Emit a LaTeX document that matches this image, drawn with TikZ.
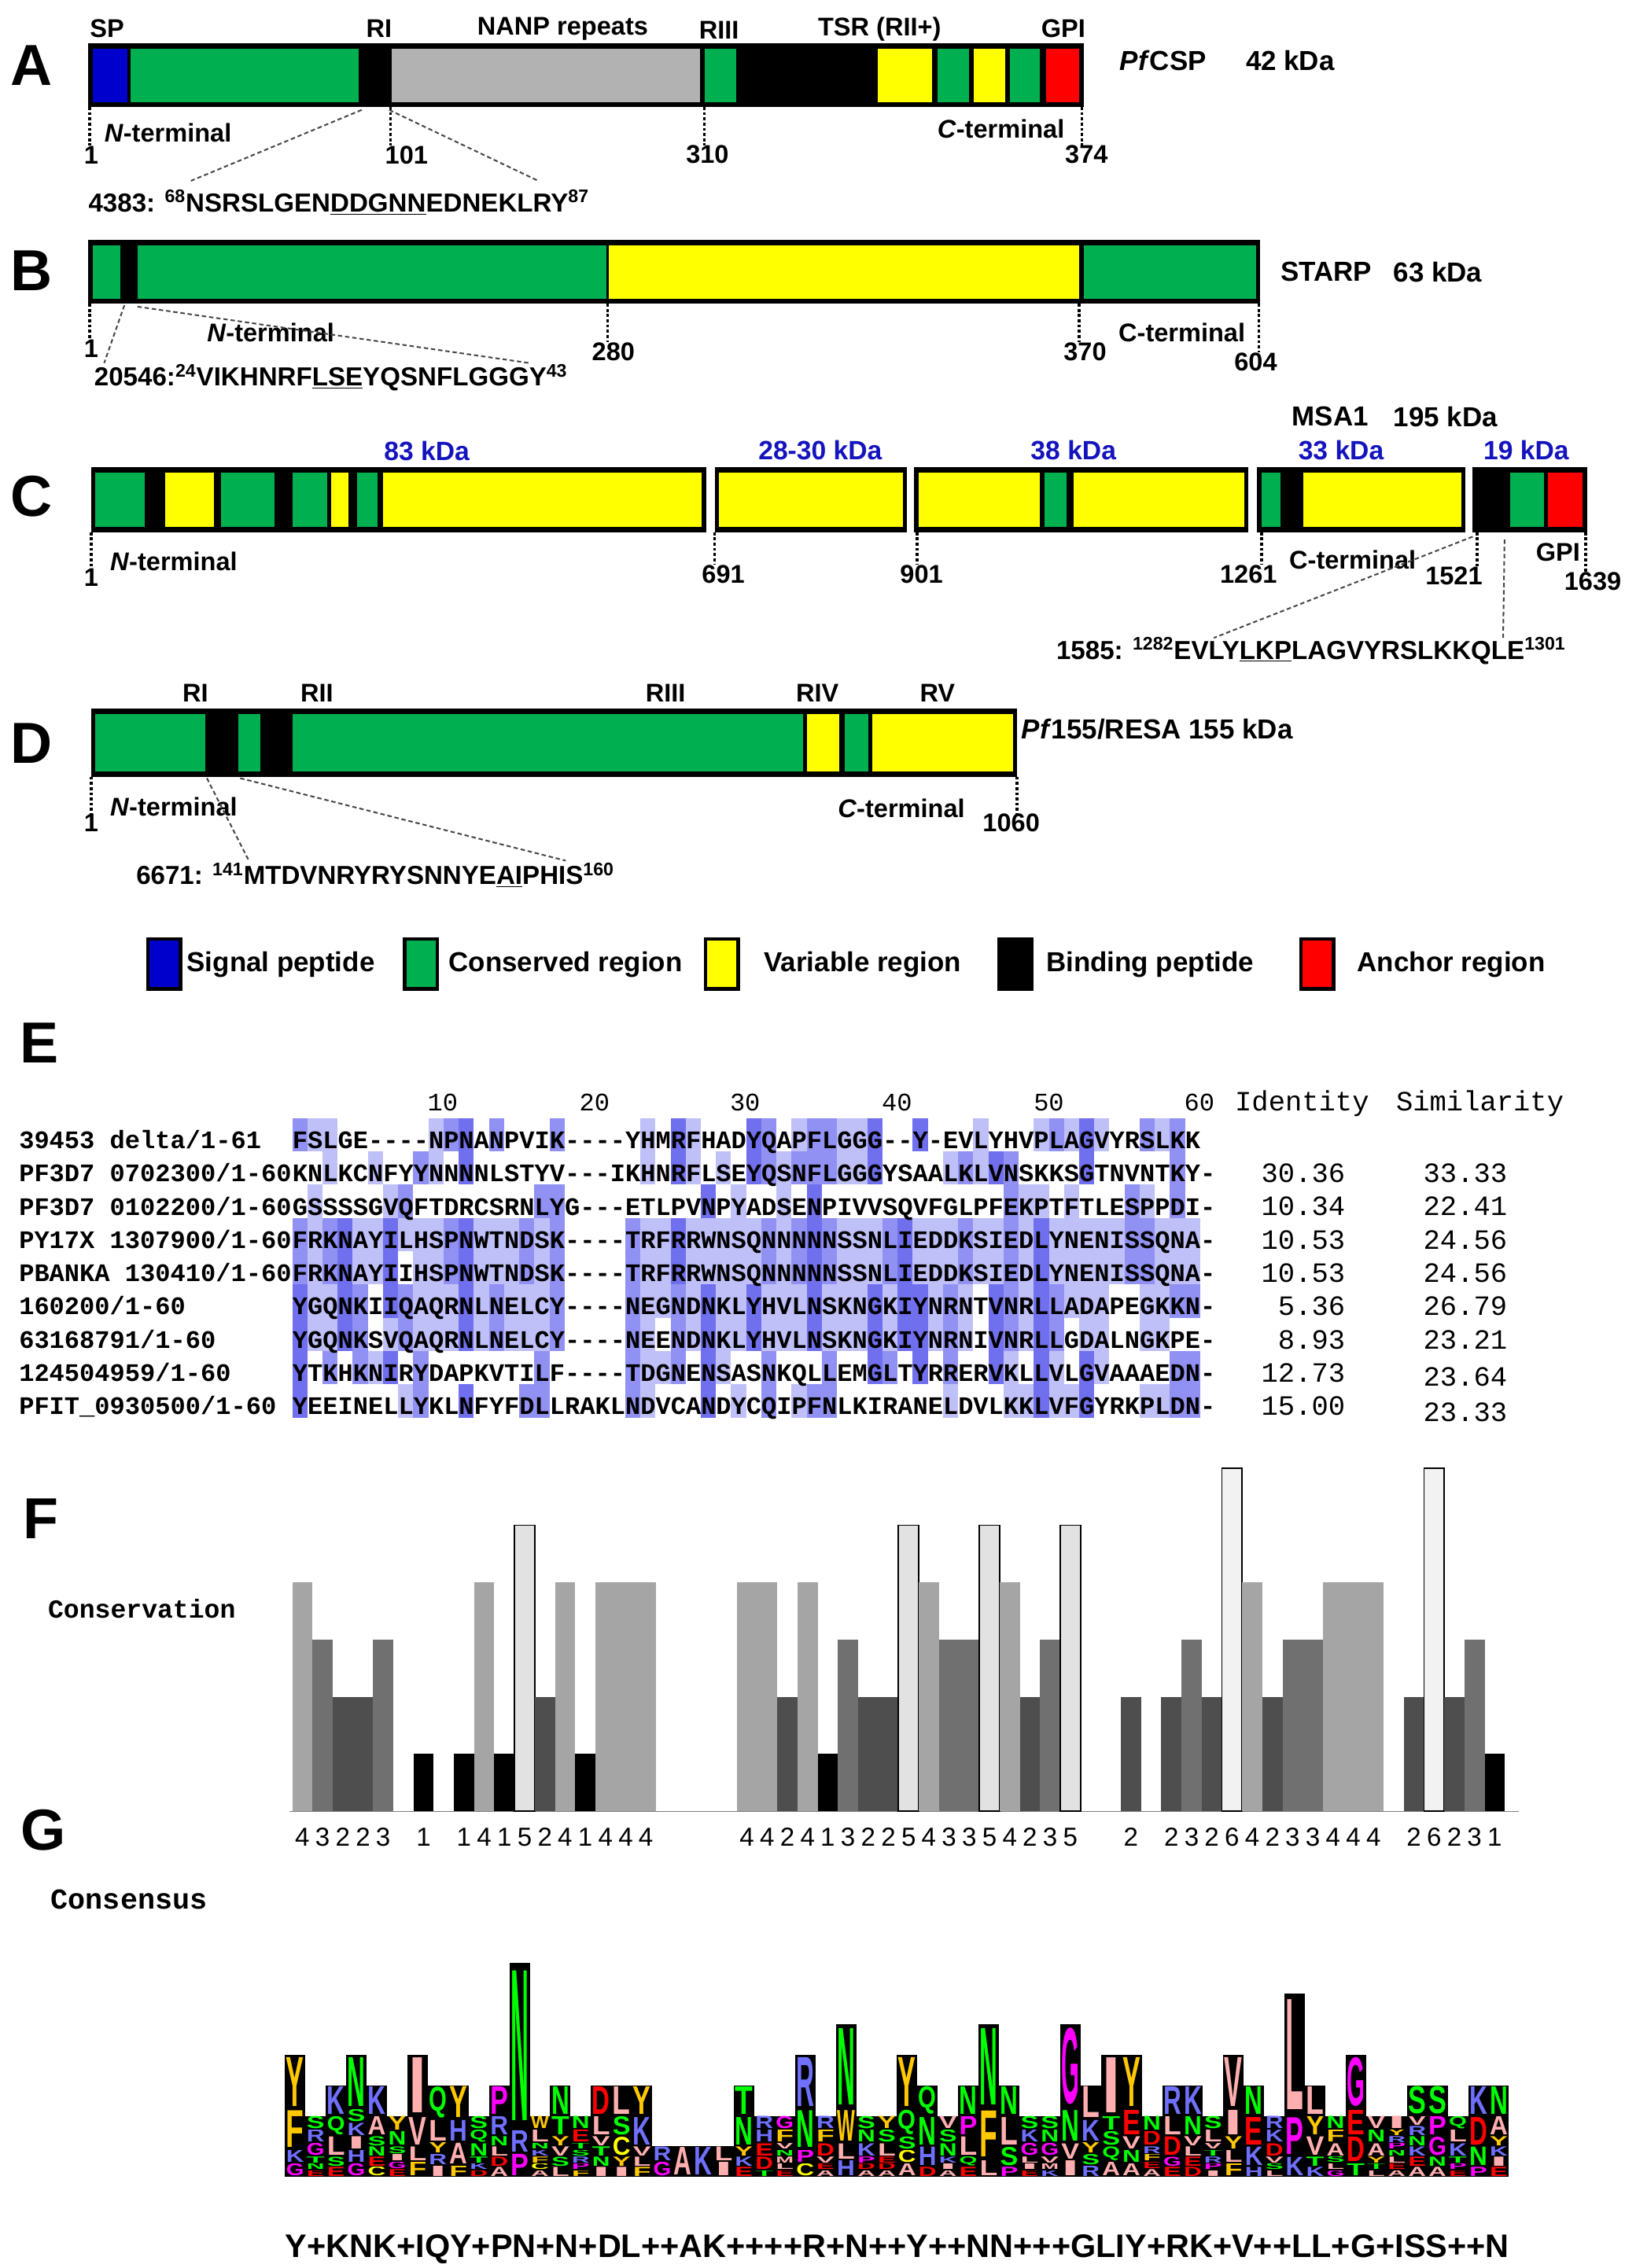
\documentclass[tikz,border=0pt]{standalone}
\usepackage{fontspec}
\setmainfont{Liberation Sans}
\setmonofont{Liberation Mono}
\usepackage{graphicx}
\usetikzlibrary{positioning}

\definecolor{spblue}{RGB}{0,0,204}
\definecolor{consgreen}{RGB}{0,176,80}
\definecolor{varyellow}{RGB}{255,255,0}
\definecolor{nanpgray}{RGB}{178,178,178}
\definecolor{anchred}{RGB}{255,0,0}
\definecolor{kdablue}{RGB}{20,20,190}
\definecolor{alnD}{RGB}{112,112,238}
\definecolor{alnM}{RGB}{145,145,243}
\definecolor{alnL}{RGB}{192,192,249}
\definecolor{cv1}{RGB}{0,0,0}
\definecolor{cv2}{RGB}{78,78,78}
\definecolor{cv3}{RGB}{112,112,112}
\definecolor{cv4}{RGB}{165,165,165}
\definecolor{cv5}{RGB}{226,226,226}
\definecolor{cv6}{RGB}{242,242,242}
% residue colours of the logo
\definecolor{zapA}{HTML}{FFAFAF}\colorlet{zapI}{zapA}\colorlet{zapL}{zapA}\colorlet{zapM}{zapA}\colorlet{zapV}{zapA}
\definecolor{zapF}{HTML}{FFC800}\colorlet{zapW}{zapF}\colorlet{zapY}{zapF}
\definecolor{zapK}{HTML}{7070FF}\colorlet{zapH}{zapK}\colorlet{zapR}{zapK}
\definecolor{zapD}{HTML}{FF0000}\colorlet{zapE}{zapD}
\definecolor{zapN}{HTML}{00FF00}\colorlet{zapQ}{zapN}\colorlet{zapS}{zapN}\colorlet{zapT}{zapN}
\definecolor{zapG}{HTML}{FF00FF}\colorlet{zapP}{zapG}
\definecolor{zapC}{HTML}{FFFF00}

\tikzset{
  panel/.style={font=\fontsize{40}{44}\selectfont\bfseries, inner sep=0pt},
  lab/.style={font=\fontsize{17.7}{20}\selectfont\bfseries, inner sep=0pt},
  prot/.style={font=\fontsize{19}{22}\selectfont\bfseries, inner sep=0pt, anchor=west},
  kda/.style={font=\fontsize{18.3}{21}\selectfont\bfseries, text=kdablue, inner sep=0pt},
  pep/.style={font=\fontsize{18}{21}\selectfont\bfseries, inner sep=0pt, anchor=west},
  tick/.style={line width=1.8pt, dash pattern=on 2pt off 1.6pt},
  zoomln/.style={line width=1.1pt, gray!55!black, dash pattern=on 3pt off 2pt},
  legbox/.style={draw=black, line width=2.5pt, minimum width=22.5pt, minimum height=34.5pt, inner sep=0pt},
  legtxt/.style={font=\fontsize{19}{22}\selectfont\bfseries, inner sep=0pt, anchor=west},
  aln/.style={font=\fontsize{17.43}{18}\selectfont\ttfamily\bfseries, inner sep=0pt, anchor=base west},
  alnhd/.style={font=\fontsize{17.43}{18}\selectfont\ttfamily, inner sep=0pt, anchor=base},
  idn/.style={font=\fontsize{19.3}{21}\selectfont\ttfamily, inner sep=0pt, anchor=base east},
  cvnum/.style={font=\fontsize{18}{20}\selectfont, inner sep=0pt},
  csline/.style={font=\fontsize{22.5}{24}\selectfont\bfseries, inner sep=0pt, anchor=west},
  logoch/.style={inner sep=0pt, anchor=south},
}

\newcommand\alncell[3]{\fill[#1] (#2,#3) rectangle ++(10.46,23);}
\newcommand\logoletter[5]{%
  \fill[black] (#2,#3) rectangle ++(14.1,-#4);
  \node[logoch, text=zap#1] (lg-#5-#1) at (#2+7.05,#3-0.05*#4)
    {\resizebox*{12.4pt}{0.9\dimexpr #4pt\relax}{\bfseries #1}};}

\ExplSyntaxOn
\seq_new:N \g_aln_rows_seq
\seq_gset_from_clist:Nn \g_aln_rows_seq
  {
    FSLGE----NPNANPVIK----YHMRFHADYQAPFLGGG--Y-EVLYHVPLAGVYRSLKK ,
    KNLKCNFYYNNNNLSTYV---IKHNRFLSEYQSNFLGGGYSAALKLVNSKKSGTNVNTKY- ,
    GSSSSGVQFTDRCSRNLYG---ETLPVNPYADSENPIVVSQVFGLPFEKPTFTLESPPDI- ,
    FRKNAYILHSPNWTNDSK----TRFRRWNSQNNNNNSSNLIEDDKSIEDLYNENISSQNA- ,
    FRKNAYIIHSPNWTNDSK----TRFRRWNSQNNNNNSSNLIEDDKSIEDLYNENISSQNA- ,
    YGQNKIIQAQRNLNELCY----NEGNDNKLYHVLNSKNGKIYNRNTVNRLLADAPEGKKN- ,
    YGQNKSVQAQRNLNELCY----NEENDNKLYHVLNSKNGKIYNRNIVNRLLGDALNGKPE- ,
    YTKHKNIRYDAPKVTILF----TDGNENSASNKQLLEMGLTYRRERVKLLVLGVAAAEDN- ,
    YEEINELLYKLNFYFDLLRAKLNDVCANDYCQIPFNLKIRANELDVLKKLVFGYRKPLDN-
  }
\cs_new:Npn \alnrow #1 { \seq_item:Nn \g_aln_rows_seq {#1} }

\int_new:N \l_aln_n_int
\tl_new:N \l_aln_r_tl
\tl_new:N \l_aln_c_tl
\tl_new:N \l_aln_ch_tl
\tl_new:N \l_aln_row_tl
\tl_new:N \l_aln_clr_tl
\cs_new_protected:Npn \aln_count:nn #1#2
  {
    \int_zero:N \l_aln_n_int
    \seq_map_inline:Nn \g_aln_rows_seq
      {
        \str_if_eq:eeT { \str_item:nn {##1} {#1} } {#2}
          { \int_incr:N \l_aln_n_int }
      }
  }
\cs_generate_variant:Nn \aln_count:nn { VV , Vn }

\cs_new_protected:Npn \aln_shade:
  {
    \int_step_variable:nNn { 9 } \l_aln_r_tl
      {
        \tl_set:Nx \l_aln_row_tl { \seq_item:Nn \g_aln_rows_seq { \l_aln_r_tl } }
        \int_step_variable:nNn { 61 } \l_aln_c_tl
          {
            \tl_set:Nx \l_aln_ch_tl { \str_item:Nn \l_aln_row_tl { \l_aln_c_tl } }
            \bool_lazy_or:nnF
              { \tl_if_empty_p:N \l_aln_ch_tl }
              { \str_if_eq_p:ee { \l_aln_ch_tl } { - } }
              {
                \aln_count:VV \l_aln_c_tl \l_aln_ch_tl
                \int_compare:nNnT { \l_aln_n_int } > { 1 }
                  {
                    \tl_set:Nx \l_aln_clr_tl
                      {
                        \int_compare:nNnTF { \l_aln_n_int } > { 3 } { alnD }
                          { \int_compare:nNnTF { \l_aln_n_int } = { 3 } { alnM } { alnL } }
                      }
                    \use:e
                      {
                        \exp_not:N \alncell { \l_aln_clr_tl }
                          { \fp_eval:n { 202 + ( \l_aln_c_tl - 1 ) * 10.46 } }
                          { \fp_eval:n { 773 + ( \l_aln_r_tl - 1 ) * 23 } }
                      }
                  }
              }
          }
      }
  }

\intarray_new:Nn \g_logo_n_intarray { 20 }
\clist_const:Nn \c_logo_abc_clist { A,C,D,E,F,G,H,I,K,L,M,N,P,Q,R,S,T,V,W,Y }
\int_new:N \l_logo_i_int
\int_new:N \l_logo_max_int
\int_new:N \l_logo_tot_int
\fp_new:N \l_logo_y_fp
\fp_new:N \l_logo_h_fp
\cs_new_protected:Npn \logo_draw:
  {
    \int_step_variable:nNn { 60 } \l_aln_c_tl
      {
        \int_zero:N \l_logo_i_int
        \int_zero:N \l_logo_max_int
        \int_zero:N \l_logo_tot_int
        \clist_map_inline:Nn \c_logo_abc_clist
          {
            \int_incr:N \l_logo_i_int
            \aln_count:Vn \l_aln_c_tl {##1}
            \intarray_gset:Nnn \g_logo_n_intarray { \l_logo_i_int } { \l_aln_n_int }
            \int_add:Nn \l_logo_tot_int { \l_aln_n_int }
            \int_compare:nNnT { \l_aln_n_int } > { \l_logo_max_int }
              { \int_set_eq:NN \l_logo_max_int \l_aln_n_int }
          }
        \fp_set:Nn \l_logo_y_fp { 1505 }
        \int_step_inline:nn { 9 }
          {
            \int_zero:N \l_logo_i_int
            \clist_map_inline:Nn \c_logo_abc_clist
              {
                \int_incr:N \l_logo_i_int
                \int_compare:nNnT { \intarray_item:Nn \g_logo_n_intarray { \l_logo_i_int } } = { ##1 }
                  {
                    \fp_set:Nn \l_logo_h_fp
                      { ##1 / \l_logo_tot_int * \l_logo_max_int / 9 * 190 }
                    \use:e
                      {
                        \exp_not:N \logoletter {####1}
                          { \fp_eval:n { 197 + ( \l_aln_c_tl - 1 ) * 14.1 } }
                          { \fp_eval:n { \l_logo_y_fp } }
                          { \fp_eval:n { \l_logo_h_fp } }
                          { \l_aln_c_tl }
                      }
                    \fp_sub:Nn \l_logo_y_fp { \l_logo_h_fp }
                  }
              }
          }
      }
  }
\cs_set_eq:NN \shadealignment \aln_shade:
\cs_set_eq:NN \drawlogo \logo_draw:
\ExplSyntaxOff

\begin{document}
\begin{tikzpicture}[x=1pt,y=-1pt]
\fill[white] (0,0) rectangle (1123,1568);
\useasboundingbox (0,0) rectangle (1123,1568);

% ---------- A: PfCSP
\node[panel] (lA) at (22,45) {A};
\fill[black] (61,30) rectangle (749,74);
\fill[spblue]    (64,33.5) rectangle (88,70.5);
\fill[consgreen] (90,33.5) rectangle (248,70.5);
\fill[nanpgray]  (271,33.5) rectangle (484,70.5);
\fill[consgreen] (487,33.5) rectangle (509,70.5);
\fill[varyellow] (607,33.5) rectangle (644,70.5);
\fill[consgreen] (648,33.5) rectangle (670,70.5);
\fill[varyellow] (673,33.5) rectangle (695,70.5);
\fill[consgreen] (698,33.5) rectangle (719,70.5);
\fill[anchred]   (723,33.5) rectangle (746,70.5);

\node[lab] (spA) at (74,20) {SP};
\node[lab] (riA) at (262,20) {RI};
\node[lab] (nanpA) at (389,20) {NANP repeats};
\node[lab] (riiiA) at (497,21) {RIII};
\node[lab] (tsrA) at (608,20) {TSR (RII+)};
\node[lab] (gpiA) at (735,20) {GPI};
\node[prot] (nmA) at (774,42) {\textit{Pf}CSP};
\node[prot] (kdA) at (861,42) {42 kDa};
\node[lab, anchor=west] (ntA) at (72,92) {\textit{N}-terminal};
\node[lab, anchor=east] (ctA) at (736,89) {\textit{C}-terminal};
\node[lab] (n1A) at (63,107) {1};
\node[lab] (n101A) at (281,107) {101};
\node[lab] (n310A) at (489,107) {310};
\node[lab] (n374A) at (751,107) {374};
\coordinate (t1A) at (62,74);
\coordinate (t101A) at (270,74);
\coordinate (t310A) at (487,74);
\coordinate (t374A) at (748,74);
\draw[tick] (t1A) -- (t1A |- n1A.north);
\draw[tick] (t101A) -- (t101A |- n101A.north);
\draw[tick] (t310A) -- (t310A |- n310A.north);
\draw[tick] (t374A) -- (t374A |- n374A.north);

\node[pep] (pA) at (61,140) {4383: \textsuperscript{68}NSRSLGEN\underline{DDGNN}EDNEKLRY\textsuperscript{87}};
\coordinate (zA1) at (250,76);
\coordinate (zA2) at (269,76);
\coordinate (eA1) at (132,125);
\coordinate (eA2) at (372,125);
\draw[zoomln] (zA1) -- (eA1);
\draw[zoomln] (zA2) -- (eA2);

% ---------- B: STARP
\node[panel] (lB) at (22,187) {B};
\fill[black] (61,166) rectangle (871,210);
\fill[consgreen] (64,169.5) rectangle (83,206.5);
\fill[consgreen] (95,169.5) rectangle (419,206.5);
\fill[varyellow] (421,169.5) rectangle (746,206.5);
\fill[consgreen] (749,169.5) rectangle (868,206.5);
\node[prot] (nmB) at (885,188) {STARP};
\node[prot] (kdB) at (963,188) {63 kDa};
\node[lab, anchor=west] (ntB) at (143,230) {\textit{N}-terminal};
\node[lab, anchor=west] (ctB) at (773,230) {C-terminal};
\node[lab] (n1B) at (63,241) {1};
\node[lab] (n280B) at (424,243) {280};
\node[lab] (n370B) at (750,243) {370};
\node[lab] (n604B) at (868,250) {604};
\coordinate (t1B) at (62,210);
\coordinate (t280B) at (420,210);
\coordinate (t370B) at (746,210);
\coordinate (t604B) at (870,210);
\draw[tick] (t1B) -- (t1B |- n1B.north);
\draw[tick] (t280B) -- (t280B |- n280B.north);
\draw[tick] (t370B) -- (t370B |- n370B.north);
\draw[tick] (t604B) -- (t604B |- n604B.north);

\node[pep] (pB) at (65,261) {20546:\textsuperscript{24}VIKHNRF\underline{LSE}YQSNFLGGGY\textsuperscript{43}};
\coordinate (zB1) at (86,211);
\coordinate (zB2) at (95,212);
\coordinate (eB1) at (72,251);
\coordinate (eB2) at (366,251);
\draw[zoomln] (zB1) -- (eB1);
\draw[zoomln] (zB2) -- (eB2);

% ---------- C: MSA1
\node[panel] (lC) at (22,343) {C};
\fill[black] (63,323) rectangle (488,368);
\fill[black] (494,323) rectangle (627,368);
\fill[black] (632,323) rectangle (863,368);
\fill[black] (869,323) rectangle (1013,368);
\fill[black] (1018,323) rectangle (1097,368);
\fill[consgreen] (66,326.5) rectangle (100,364.5);
\fill[varyellow] (114,326.5) rectangle (148,364.5);
\fill[consgreen] (153,326.5) rectangle (190,364.5);
\fill[consgreen] (202,326.5) rectangle (226,364.5);
\fill[varyellow] (229,326.5) rectangle (241,364.5);
\fill[consgreen] (247,326.5) rectangle (261,364.5);
\fill[varyellow] (265,326.5) rectangle (485,364.5);
\fill[varyellow] (497,326.5) rectangle (624,364.5);
\fill[varyellow] (635,326.5) rectangle (719,364.5);
\fill[consgreen] (722,326.5) rectangle (737,364.5);
\fill[varyellow] (742,326.5) rectangle (860,364.5);
\fill[consgreen] (872,326.5) rectangle (885,364.5);
\fill[varyellow] (901,326.5) rectangle (1010,364.5);
\fill[consgreen] (1044,326.5) rectangle (1067,364.5);
\fill[anchred]   (1070,326.5) rectangle (1094,364.5);

\node[kda] (k83C) at (295,312) {83 kDa};
\node[kda] (k28C) at (567,311) {28-30 kDa};
\node[kda] (k38C) at (742,311) {38 kDa};
\node[kda] (k33C) at (927,311) {33 kDa};
\node[kda] (k19C) at (1055,311) {19 kDa};
\node[prot] (nmC) at (893,288) {MSA1};
\node[prot] (kdC) at (963,288) {195 kDa};
\node[lab, anchor=west] (ntC) at (76,388) {\textit{N}-terminal};
\node[lab, anchor=west] (ctC) at (891,387) {C-terminal};
\node[lab] (gpiC) at (1077,382) {GPI};
\node[lab] (n1C) at (63,399) {1};
\node[lab] (n691C) at (500,397) {691};
\node[lab] (n901C) at (637,397) {901};
\node[lab] (n1261C) at (863,397) {1261};
\node[lab] (n1521C) at (1005,398) {1521};
\node[lab] (n1639C) at (1101,402) {1639};
\coordinate (t1C) at (63,368);
\coordinate (t691C) at (494,368);
\coordinate (t901C) at (634,368);
\coordinate (t1261C) at (872,368);
\coordinate (t1521C) at (1021,368);
\coordinate (t1639C) at (1096,368);
\draw[tick] (t1C) -- (t1C |- n1C.north);
\draw[tick] (t691C) -- (t691C |- n691C.north);
\draw[tick] (t901C) -- (t901C |- n901C.north);
\draw[tick] (t1261C) -- (t1261C |- n1261C.north);
\draw[tick] (t1521C) -- (t1521C |- n1521C.north);
\draw[tick] (t1639C) -- (t1639C |- n1639C.north);

\node[pep] (pC) at (730,450) {1585: \textsuperscript{1282}EVLY\underline{LKP}LAGVYRSLKKQLE\textsuperscript{1301}};
\coordinate (zC1) at (1018,371);
\coordinate (zC2) at (1040,373);
\coordinate (eC1) at (839,441);
\coordinate (eC2) at (1039,441);
\draw[zoomln] (zC1) -- (eC1);
\draw[zoomln] (zC2) -- (eC2);

% ---------- D: Pf155/RESA
\node[panel] (lD) at (22,514) {D};
\fill[black] (63,490) rectangle (703,537);
\fill[consgreen] (66,493.5) rectangle (142,533.5);
\fill[consgreen] (165,493.5) rectangle (180,533.5);
\fill[consgreen] (202,493.5) rectangle (555,533.5);
\fill[varyellow] (558,493.5) rectangle (580,533.5);
\fill[consgreen] (584,493.5) rectangle (600,533.5);
\fill[varyellow] (603,493.5) rectangle (700,533.5);
\node[lab] (riD) at (135,479) {RI};
\node[lab] (riiD) at (219,479) {RII};
\node[lab] (riiiD) at (460,479) {RIII};
\node[lab] (rivD) at (565,479) {RIV};
\node[lab] (rvD) at (648,479) {RV};
\node[prot] (nmD) at (706,504) {\textit{Pf}155/RESA 155 kDa};
\node[lab, anchor=west] (ntD) at (76,558) {\textit{N}-terminal};
\node[lab, anchor=west] (ctD) at (579,559) {\textit{C}-terminal};
\node[lab] (n1D) at (63,569) {1};
\node[lab] (n1060D) at (699,569) {1060};
\coordinate (t1D) at (63,537);
\coordinate (t1060D) at (703,537);
\draw[tick] (t1D) -- (t1D |- n1D.north);
\draw[tick] (t1060D) -- (t1060D |- n1060D.north);

\node[pep] (pD) at (94,605) {6671: \textsuperscript{141}MTDVNRYRYSNNYE\underline{AI}PHIS\textsuperscript{160}};
\coordinate (zD1) at (143,538);
\coordinate (zD2) at (166,538);
\coordinate (eD1) at (172,595);
\coordinate (eD2) at (391,595);
\draw[zoomln] (zD1) -- (eD1);
\draw[zoomln] (zD2) -- (eD2);

% ---------- legend
\node[legbox, fill=spblue] (lbSP) at (113.5,666.5) {};
\node[legtxt] (ltSP) at (129,667) {Signal peptide};
\node[legbox, fill=consgreen] (lbCR) at (291,666.5) {};
\node[legtxt] (ltCR) at (310,667) {Conserved region};
\node[legbox, fill=varyellow] (lbVR) at (499,666.5) {};
\node[legtxt] (ltVR) at (528,667) {Variable region};
\node[legbox, fill=black] (lbBP) at (702,666.5) {};
\node[legtxt] (ltBP) at (723,667) {Binding peptide};
\node[legbox, fill=anchred] (lbAR) at (910.5,666.5) {};
\node[legtxt] (ltAR) at (938,667) {Anchor region};

% ---------- E: alignment
\node[panel] (lE) at (27,721) {E};
\shadealignment
\foreach \n/\x in {10/306,20/411,30/515,40/620,50/725,60/829}
  \node[alnhd] (hd\n) at (\x,768) {\n};
\node[idn, anchor=base] (hdId) at (900,768) {Identity};
\node[idn, anchor=base] (hdSim) at (1023,768) {Similarity};

\node[aln] (nm1) at (13,794) {39453 delta/1-61};
\node[aln] (nm2) at (13,817) {PF3D7 0702300/1-60};
\node[aln] (nm3) at (13,840) {PF3D7 0102200/1-60};
\node[aln] (nm4) at (13,863) {PY17X 1307900/1-60};
\node[aln] (nm5) at (13,886) {PBANKA 130410/1-60};
\node[aln] (nm6) at (13,909) {160200/1-60};
\node[aln] (nm7) at (13,932) {63168791/1-60};
\node[aln] (nm8) at (13,955) {124504959/1-60};
\node[aln] (nm9) at (13,978) {PFIT\_0930500/1-60};
\foreach \r in {1,...,9}
  \node[aln] (sq\r) at (202,{794+(\r-1)*23}) {\alnrow{\r}};

\node[idn] (id2) at (930,817.5) {30.36};
\node[idn] (id3) at (930,840.5) {10.34};
\node[idn] (id4) at (930,863.5) {10.53};
\node[idn] (id5) at (930,886.5) {10.53};
\node[idn] (id6) at (930,909.5) {5.36};
\node[idn] (id7) at (930,932.5) {8.93};
\node[idn] (id8) at (930,955.5) {12.73};
\node[idn] (id9) at (930,978.5) {15.00};
\node[idn] (si2) at (1042,817.5) {33.33};
\node[idn] (si3) at (1042,840.5) {22.41};
\node[idn] (si4) at (1042,863.5) {24.56};
\node[idn] (si5) at (1042,886.5) {24.56};
\node[idn] (si6) at (1042,909.5) {26.79};
\node[idn] (si7) at (1042,932.5) {23.21};
\node[idn] (si8) at (1042,958.5) {23.64};
\node[idn] (si9) at (1042,982.5) {23.33};

% ---------- F: conservation
\node[panel] (lF) at (28,1050) {F};
\node[aln, anchor=west, font=\fontsize{18}{20}\selectfont\ttfamily\bfseries] (cvlab) at (33,1112) {Conservation};
\draw[gray, line width=0.8pt] (200,1252.5) -- (1050,1252.5);
\foreach \v [count=\k] in {4,3,2,2,3,0,1,0,1,4,1,5,2,4,1,4,4,4,0,0,0,0,4,4,2,4,1,3,2,2,5,4,3,3,5,4,2,3,5,0,0,2,0,2,3,2,6,4,2,3,3,4,4,4,0,2,6,2,3,1}{
  \ifnum\v>0
    \pgfmathsetmacro\bx{202+(\k-1)*13.97}
    \pgfmathsetmacro\bh{39.5*\v}
    \ifnum\v>4
      \filldraw[fill=cv\v, draw=black, line width=1pt] (\bx,1252) rectangle ++(13.97,-\bh);
    \else
      \fill[cv\v] (\bx,1252) rectangle ++(13.97,-\bh);
    \fi
    \node[cvnum] (cv-\k) at (\bx+6.98,1270) {\v};
  \fi
}

% ---------- G: consensus logo
\node[panel] (lG) at (30,1265) {G};
\node[aln, anchor=west, font=\fontsize{20}{22}\selectfont\ttfamily\bfseries] (cslab) at (35,1313) {Consensus};
\drawlogo
\node[csline] (csq) at (197,1555) {\resizebox{846pt}{!}{Y+KNK+IQY+PN+N+DL++AK++++R+N++Y++NN+++GLIY+RK+V++LL+G+ISS++N}};

\end{tikzpicture}
\end{document}
